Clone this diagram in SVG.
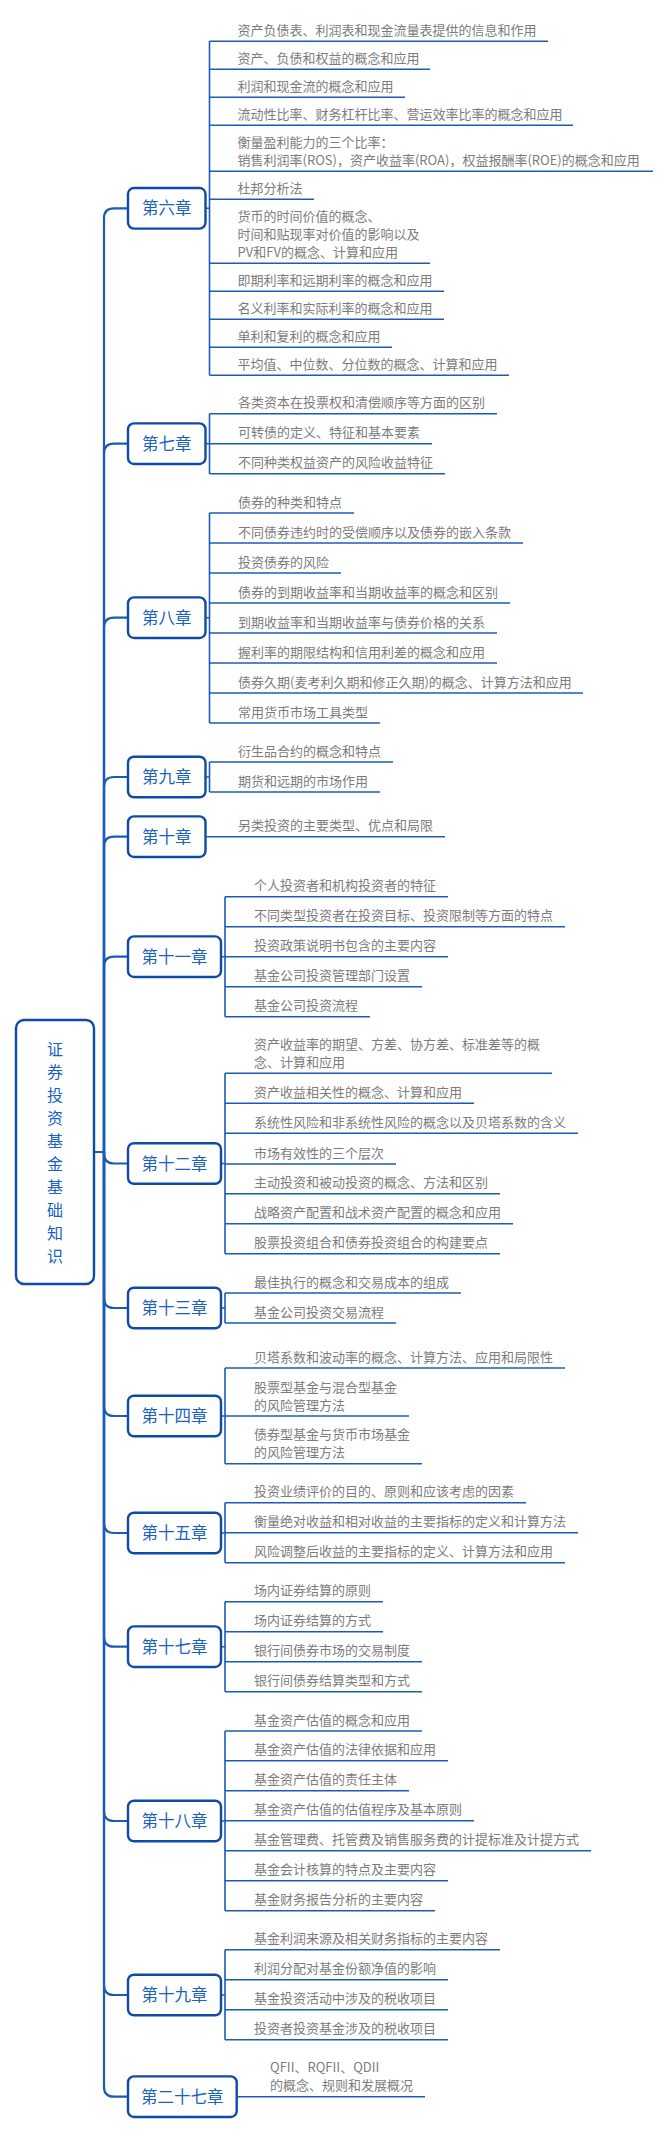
<svg xmlns="http://www.w3.org/2000/svg" width="669" height="2134" viewBox="0 0 669 2134">
<style>
.ln{stroke:#1a5cb5;stroke-width:1.6;fill:none}
.tr{stroke:#1a5cb5;stroke-width:2.2;fill:none}
.box{fill:#fff;stroke:#0e4aa6;stroke-width:2.4}
.ct{font-family:"Noto Sans CJK SC","Liberation Sans",sans-serif;font-size:16.5px;fill:#1a62c2;text-anchor:middle}
.rt{font-family:"Noto Sans CJK SC","Liberation Sans",sans-serif;font-size:16px;fill:#1a62c2;text-anchor:middle}
.it{font-family:"Noto Sans CJK SC","Liberation Sans",sans-serif;font-size:13px;fill:#7c7c7c}
</style>
<rect width="669" height="2134" fill="#fff"/>
<g id="connectors">
<path class="tr" d="M94,1152 H104 V218.3 Q104,208.3 114,208.3 H128"/>
<path class="tr" d="M104,1152 V453.7 Q104,443.7 114,443.7 H128"/>
<path class="tr" d="M104,1152 V627.7 Q104,617.7 114,617.7 H128"/>
<path class="tr" d="M104,1152 V787 Q104,777 114,777 H128"/>
<path class="tr" d="M104,1152 V846.7 Q104,836.7 114,836.7 H128"/>
<path class="tr" d="M104,1152 V966.7 Q104,956.7 114,956.7 H128"/>
<path class="tr" d="M104,1152 V1153.5 Q104,1163.5 114,1163.5 H128"/>
<path class="tr" d="M104,1152 V1298 Q104,1308 114,1308 H128"/>
<path class="tr" d="M104,1152 V1406 Q104,1416 114,1416 H128"/>
<path class="tr" d="M104,1152 V1523 Q104,1533 114,1533 H128"/>
<path class="tr" d="M104,1152 V1636.7 Q104,1646.7 114,1646.7 H128"/>
<path class="tr" d="M104,1152 V1811 Q104,1821 114,1821 H128"/>
<path class="tr" d="M104,1152 V1985 Q104,1995 114,1995 H128"/>
<path class="tr" d="M104,1152 V2086.7 Q104,2096.7 114,2096.7 H128"/>
<path class="ln" d="M205.5,208.3 H209.5 M209.5,41.3 V375.3"/>
<path class="ln" d="M205.5,443.7 H209.5 M209.5,413.7 V473.7"/>
<path class="ln" d="M205.5,617.7 H209.5 M209.5,513 V723"/>
<path class="ln" d="M205.5,777 H209.5 M209.5,762 V792"/>
<path class="ln" d="M221,956.7 H225 M225,896.7 V1016.7"/>
<path class="ln" d="M221,1163.5 H225 M225,1073.3 V1253.7"/>
<path class="ln" d="M221,1308 H225 M225,1293 V1323"/>
<path class="ln" d="M221,1416 H225 M225,1368 V1463.7"/>
<path class="ln" d="M221,1533 H225 M225,1502.7 V1562.7"/>
<path class="ln" d="M221,1646.7 H225 M225,1601.7 V1691.7"/>
<path class="ln" d="M221,1821 H225 M225,1731 V1910.7"/>
<path class="ln" d="M221,1995 H225 M225,1949.7 V2039.7"/>
</g>
<g id="root">
<rect class="box" x="16" y="1020" width="78" height="264" rx="8"/>
<text class="rt" x="55" y="1055.3">证<tspan x="55" dy="23">券</tspan><tspan x="55" dy="23">投</tspan><tspan x="55" dy="23">资</tspan><tspan x="55" dy="23">基</tspan><tspan x="55" dy="23">金</tspan><tspan x="55" dy="23">基</tspan><tspan x="55" dy="23">础</tspan><tspan x="55" dy="23">知</tspan><tspan x="55" dy="23">识</tspan></text>
</g>
<g id="ch6">
<rect class="box" x="128" y="188" width="77.5" height="40.6" rx="6"/>
<text class="ct" x="166.7" y="214.3">第六章</text>
<g id="ch6-1"><path class="ln" d="M209.5,41.3 H548"/><text class="it" x="237.5" y="34.8">资产负债表、利润表和现金流量表提供的信息和作用</text></g>
<g id="ch6-2"><path class="ln" d="M209.5,69.3 H430"/><text class="it" x="237.5" y="62.8">资产、负债和权益的概念和应用</text></g>
<g id="ch6-3"><path class="ln" d="M209.5,97.3 H405"/><text class="it" x="237.5" y="90.8">利润和现金流的概念和应用</text></g>
<g id="ch6-4"><path class="ln" d="M209.5,125.3 H573"/><text class="it" x="237.5" y="118.8">流动性比率、财务杠杆比率、营运效率比率的概念和应用</text></g>
<g id="ch6-5"><path class="ln" d="M209.5,171.3 H653"/><text class="it" x="237.5" y="146.8">衡量盈利能力的三个比率：<tspan x="237.5" dy="18">销售利润率(ROS)，资产收益率(ROA)，权益报酬率(ROE)的概念和应用</tspan></text></g>
<g id="ch6-6"><path class="ln" d="M209.5,199.3 H314"/><text class="it" x="237.5" y="192.8">杜邦分析法</text></g>
<g id="ch6-7"><path class="ln" d="M209.5,263.3 H430"/><text class="it" x="237.5" y="220.8">货币的时间价值的概念、<tspan x="237.5" dy="18">时间和贴现率对价值的影响以及</tspan><tspan x="237.5" dy="18">PV和FV的概念、计算和应用</tspan></text></g>
<g id="ch6-8"><path class="ln" d="M209.5,291.3 H444"/><text class="it" x="237.5" y="284.8">即期利率和远期利率的概念和应用</text></g>
<g id="ch6-9"><path class="ln" d="M209.5,319.3 H444"/><text class="it" x="237.5" y="312.8">名义利率和实际利率的概念和应用</text></g>
<g id="ch6-10"><path class="ln" d="M209.5,347.3 H392"/><text class="it" x="237.5" y="340.8">单利和复利的概念和应用</text></g>
<g id="ch6-11"><path class="ln" d="M209.5,375.3 H509"/><text class="it" x="237.5" y="368.8">平均值、中位数、分位数的概念、计算和应用</text></g>
</g>
<g id="ch7">
<rect class="box" x="128" y="423.4" width="77.5" height="40.6" rx="6"/>
<text class="ct" x="166.7" y="449.7">第七章</text>
<g id="ch7-1"><path class="ln" d="M209.5,413.7 H497"/><text class="it" x="238" y="407.2">各类资本在投票权和清偿顺序等方面的区别</text></g>
<g id="ch7-2"><path class="ln" d="M209.5,443.7 H432"/><text class="it" x="238" y="437.2">可转债的定义、特征和基本要素</text></g>
<g id="ch7-3"><path class="ln" d="M209.5,473.7 H445"/><text class="it" x="238" y="467.2">不同种类权益资产的风险收益特征</text></g>
</g>
<g id="ch8">
<rect class="box" x="128" y="597.4" width="77.5" height="40.6" rx="6"/>
<text class="ct" x="166.7" y="623.7">第八章</text>
<g id="ch8-1"><path class="ln" d="M209.5,513 H354"/><text class="it" x="238" y="506.5">债券的种类和特点</text></g>
<g id="ch8-2"><path class="ln" d="M209.5,543 H523"/><text class="it" x="238" y="536.5">不同债券违约时的受偿顺序以及债券的嵌入条款</text></g>
<g id="ch8-3"><path class="ln" d="M209.5,573 H341"/><text class="it" x="238" y="566.5">投资债券的风险</text></g>
<g id="ch8-4"><path class="ln" d="M209.5,603 H510"/><text class="it" x="238" y="596.5">债券的到期收益率和当期收益率的概念和区别</text></g>
<g id="ch8-5"><path class="ln" d="M209.5,633 H497"/><text class="it" x="238" y="626.5">到期收益率和当期收益率与债券价格的关系</text></g>
<g id="ch8-6"><path class="ln" d="M209.5,663 H497"/><text class="it" x="238" y="656.5">握利率的期限结构和信用利差的概念和应用</text></g>
<g id="ch8-7"><path class="ln" d="M209.5,693 H583"/><text class="it" x="238" y="686.5">债券久期(麦考利久期和修正久期)的概念、计算方法和应用</text></g>
<g id="ch8-8"><path class="ln" d="M209.5,723 H380"/><text class="it" x="238" y="716.5">常用货币市场工具类型</text></g>
</g>
<g id="ch9">
<rect class="box" x="128" y="756.7" width="77.5" height="40.6" rx="6"/>
<text class="ct" x="166.7" y="783">第九章</text>
<g id="ch9-1"><path class="ln" d="M209.5,762 H393"/><text class="it" x="238" y="755.5">衍生品合约的概念和特点</text></g>
<g id="ch9-2"><path class="ln" d="M209.5,792 H380"/><text class="it" x="238" y="785.5">期货和远期的市场作用</text></g>
</g>
<g id="ch10">
<rect class="box" x="128" y="816.4" width="77.5" height="40.6" rx="6"/>
<text class="ct" x="166.7" y="842.7">第十章</text>
<g id="ch10-1"><path class="ln" d="M205.5,836.7 H445"/><text class="it" x="238" y="830.2">另类投资的主要类型、优点和局限</text></g>
</g>
<g id="ch11">
<rect class="box" x="128" y="936.4" width="93" height="40.6" rx="6"/>
<text class="ct" x="174.5" y="962.7">第十一章</text>
<g id="ch11-1"><path class="ln" d="M225,896.7 H448"/><text class="it" x="254" y="890.2">个人投资者和机构投资者的特征</text></g>
<g id="ch11-2"><path class="ln" d="M225,926.7 H565"/><text class="it" x="254" y="920.2">不同类型投资者在投资目标、投资限制等方面的特点</text></g>
<g id="ch11-3"><path class="ln" d="M225,956.7 H448"/><text class="it" x="254" y="950.2">投资政策说明书包含的主要内容</text></g>
<g id="ch11-4"><path class="ln" d="M225,986.7 H422"/><text class="it" x="254" y="980.2">基金公司投资管理部门设置</text></g>
<g id="ch11-5"><path class="ln" d="M225,1016.7 H370"/><text class="it" x="254" y="1010.2">基金公司投资流程</text></g>
</g>
<g id="ch12">
<rect class="box" x="128" y="1143.2" width="93" height="40.6" rx="6"/>
<text class="ct" x="174.5" y="1169.5">第十二章</text>
<g id="ch12-1"><path class="ln" d="M225,1073.3 H552"/><text class="it" x="254" y="1048.8">资产收益率的期望、方差、协方差、标准差等的概<tspan x="254" dy="18">念、计算和应用</tspan></text></g>
<g id="ch12-2"><path class="ln" d="M225,1103.3 H474"/><text class="it" x="254" y="1096.8">资产收益相关性的概念、计算和应用</text></g>
<g id="ch12-3"><path class="ln" d="M225,1133.3 H578"/><text class="it" x="254" y="1126.8">系统性风险和非系统性风险的概念以及贝塔系数的含义</text></g>
<g id="ch12-4"><path class="ln" d="M225,1164 H396"/><text class="it" x="254" y="1157.5">市场有效性的三个层次</text></g>
<g id="ch12-5"><path class="ln" d="M225,1193.7 H500"/><text class="it" x="254" y="1187.2">主动投资和被动投资的概念、方法和区别</text></g>
<g id="ch12-6"><path class="ln" d="M225,1223.7 H513"/><text class="it" x="254" y="1217.2">战略资产配置和战术资产配置的概念和应用</text></g>
<g id="ch12-7"><path class="ln" d="M225,1253.7 H500"/><text class="it" x="254" y="1247.2">股票投资组合和债券投资组合的构建要点</text></g>
</g>
<g id="ch13">
<rect class="box" x="128" y="1287.7" width="93" height="40.6" rx="6"/>
<text class="ct" x="174.5" y="1314">第十三章</text>
<g id="ch13-1"><path class="ln" d="M225,1293 H461"/><text class="it" x="254" y="1286.5">最佳执行的概念和交易成本的组成</text></g>
<g id="ch13-2"><path class="ln" d="M225,1323 H396"/><text class="it" x="254" y="1316.5">基金公司投资交易流程</text></g>
</g>
<g id="ch14">
<rect class="box" x="128" y="1395.7" width="93" height="40.6" rx="6"/>
<text class="ct" x="174.5" y="1422">第十四章</text>
<g id="ch14-1"><path class="ln" d="M225,1368 H565"/><text class="it" x="254" y="1361.5">贝塔系数和波动率的概念、计算方法、应用和局限性</text></g>
<g id="ch14-2"><path class="ln" d="M225,1416 H409"/><text class="it" x="254" y="1391.5">股票型基金与混合型基金<tspan x="254" dy="18">的风险管理方法</tspan></text></g>
<g id="ch14-3"><path class="ln" d="M225,1463.7 H422"/><text class="it" x="254" y="1439.2">债券型基金与货币市场基金<tspan x="254" dy="18">的风险管理方法</tspan></text></g>
</g>
<g id="ch15">
<rect class="box" x="128" y="1512.7" width="93" height="40.6" rx="6"/>
<text class="ct" x="174.5" y="1539">第十五章</text>
<g id="ch15-1"><path class="ln" d="M225,1502.7 H526"/><text class="it" x="254" y="1496.2">投资业绩评价的目的、原则和应该考虑的因素</text></g>
<g id="ch15-2"><path class="ln" d="M225,1532.7 H578"/><text class="it" x="254" y="1526.2">衡量绝对收益和相对收益的主要指标的定义和计算方法</text></g>
<g id="ch15-3"><path class="ln" d="M225,1562.7 H565"/><text class="it" x="254" y="1556.2">风险调整后收益的主要指标的定义、计算方法和应用</text></g>
</g>
<g id="ch17">
<rect class="box" x="128" y="1626.4" width="93" height="40.6" rx="6"/>
<text class="ct" x="174.5" y="1652.7">第十七章</text>
<g id="ch17-1"><path class="ln" d="M225,1601.7 H383"/><text class="it" x="254" y="1595.2">场内证券结算的原则</text></g>
<g id="ch17-2"><path class="ln" d="M225,1631.7 H383"/><text class="it" x="254" y="1625.2">场内证券结算的方式</text></g>
<g id="ch17-3"><path class="ln" d="M225,1661.7 H422"/><text class="it" x="254" y="1655.2">银行间债券市场的交易制度</text></g>
<g id="ch17-4"><path class="ln" d="M225,1691.7 H422"/><text class="it" x="254" y="1685.2">银行间债券结算类型和方式</text></g>
</g>
<g id="ch18">
<rect class="box" x="128" y="1800.7" width="93" height="40.6" rx="6"/>
<text class="ct" x="174.5" y="1827">第十八章</text>
<g id="ch18-1"><path class="ln" d="M225,1731 H422"/><text class="it" x="254" y="1724.5">基金资产估值的概念和应用</text></g>
<g id="ch18-2"><path class="ln" d="M225,1760.7 H448"/><text class="it" x="254" y="1754.2">基金资产估值的法律依据和应用</text></g>
<g id="ch18-3"><path class="ln" d="M225,1790.7 H409"/><text class="it" x="254" y="1784.2">基金资产估值的责任主体</text></g>
<g id="ch18-4"><path class="ln" d="M225,1820.7 H474"/><text class="it" x="254" y="1814.2">基金资产估值的估值程序及基本原则</text></g>
<g id="ch18-5"><path class="ln" d="M225,1850.7 H591"/><text class="it" x="254" y="1844.2">基金管理费、托管费及销售服务费的计提标准及计提方式</text></g>
<g id="ch18-6"><path class="ln" d="M225,1880.7 H448"/><text class="it" x="254" y="1874.2">基金会计核算的特点及主要内容</text></g>
<g id="ch18-7"><path class="ln" d="M225,1910.7 H435"/><text class="it" x="254" y="1904.2">基金财务报告分析的主要内容</text></g>
</g>
<g id="ch19">
<rect class="box" x="128" y="1974.7" width="93" height="40.6" rx="6"/>
<text class="ct" x="174.5" y="2001">第十九章</text>
<g id="ch19-1"><path class="ln" d="M225,1949.7 H500"/><text class="it" x="254" y="1943.2">基金利润来源及相关财务指标的主要内容</text></g>
<g id="ch19-2"><path class="ln" d="M225,1979.7 H448"/><text class="it" x="254" y="1973.2">利润分配对基金份额净值的影响</text></g>
<g id="ch19-3"><path class="ln" d="M225,2009.7 H448"/><text class="it" x="254" y="2003.2">基金投资活动中涉及的税收项目</text></g>
<g id="ch19-4"><path class="ln" d="M225,2039.7 H448"/><text class="it" x="254" y="2033.2">投资者投资基金涉及的税收项目</text></g>
</g>
<g id="ch27">
<rect class="box" x="128" y="2076.4" width="108.7" height="40.6" rx="6"/>
<text class="ct" x="182.3" y="2102.7">第二十七章</text>
<g id="ch27-1"><path class="ln" d="M236.7,2096.7 H425"/><text class="it" x="270" y="2072.2">QFII、RQFII、QDII<tspan x="270" dy="18">的概念、规则和发展概况</tspan></text></g>
</g>
</svg>
